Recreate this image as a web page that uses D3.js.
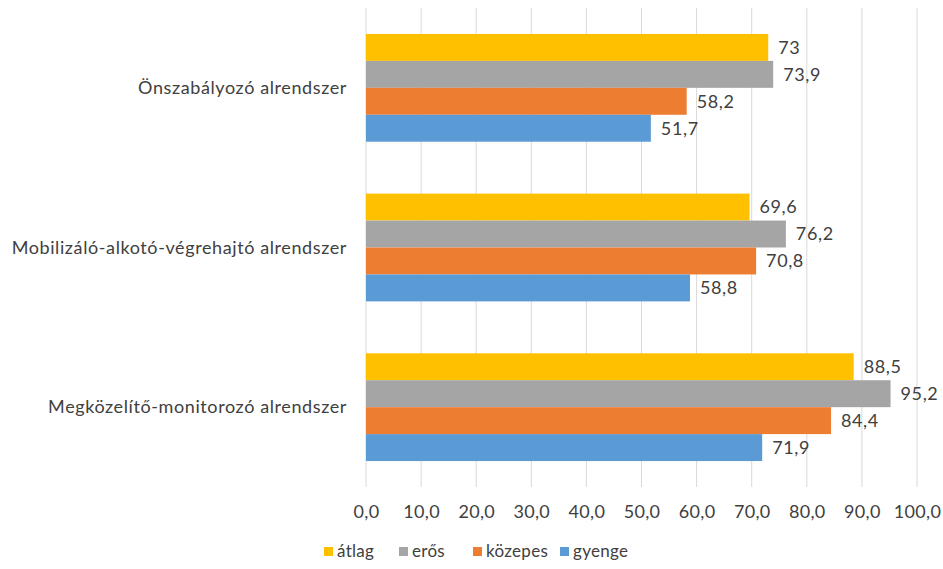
<!DOCTYPE html>
<html><head><meta charset="utf-8">
<script src="https://cdn.jsdelivr.net/npm/d3@7"></script>
<style>body{margin:0;background:#fff}svg{display:block}text{font-family:Lato,"Open Sans",sans-serif;fill:#404040;letter-spacing:0.6px}</style>
</head><body>
<svg id="c" width="943" height="569"></svg>
<script>
const categories = ["Önszabályozó alrendszer","Mobilizáló-alkotó-végrehajtó alrendszer","Megközelítő-monitorozó alrendszer"];
const seriesNames = ["átlag","erős","közepes","gyenge"];
const atlag = [73, 69.6, 88.5];
const eros = [73.9, 76.2, 95.2];
const kozepes = [58.2, 70.8, 84.4];
const gyenge = [51.7, 58.8, 71.9];
const labels = [["73","69,6","88,5"],["73,9","76,2","95,2"],["58,2","70,8","84,4"],["51,7","58,8","71,9"]];
const tickValues = [0,10,20,30,40,50,60,70,80,90,100];
const colors = ["#FFC000","#A5A5A5","#ED7D31","#5B9BD5"];
const seriesValues = [atlag, eros, kozepes, gyenge];

const svg = d3.select("#c");
const pL = 366, pR = 917, pT = 8, pB = 487;
const x = d3.scaleLinear().domain([0,100]).range([pL,pR]);
const y = d3.scaleBand().domain(categories).range([pT,pB]).paddingInner(0.325).paddingOuter(0.1625);
const ys = d3.scaleBand().domain(seriesNames).range([0,y.bandwidth()]);

// gridlines
svg.append("g").selectAll("line").data(tickValues).join("line")
  .attr("x1",d=>x(d)).attr("x2",d=>x(d)).attr("y1",pT).attr("y2",pB)
  .attr("stroke","#d9d9d9").attr("stroke-width",1);

const fmt = d => d.toFixed(1).replace(".",",");
const ax = svg.append("g").attr("transform",`translate(0,${pB})`)
  .call(d3.axisBottom(x).tickValues(tickValues).tickFormat(fmt).tickSize(0).tickPadding(18));
ax.select(".domain").remove();
ax.selectAll("text").style("font-size","18px").style("letter-spacing","0.3px").attr("fill","#595959").style("font-family","Lato,sans-serif");

// bars
seriesNames.forEach((s,si)=>{
  const g = svg.append("g");
  g.selectAll("rect").data(categories).join("rect")
    .attr("x",x(0)).attr("y",c=>y(c)+ys(s))
    .attr("width",(c,i)=>x(seriesValues[si][i])-x(0)).attr("height",ys.bandwidth())
    .attr("fill",colors[si]);
  g.selectAll("text").data(categories).join("text")
    .attr("x",(c,i)=>x(seriesValues[si][i])+10).attr("y",c=>y(c)+ys(s)+ys.bandwidth()/2)
    .attr("dy","0.35em").style("font-size","18px").text((c,i)=>labels[si][i]);
});

// category labels
svg.append("g").selectAll("text").data(categories).join("text")
  .attr("x",347).attr("y",c=>y(c)+y.bandwidth()/2).attr("dy","0.35em")
  .attr("text-anchor","end").style("font-size","18px").attr("fill","#505050").text(d=>d);

// legend
const legX = [324,399,473,560];
const lg = svg.append("g");
seriesNames.forEach((s,i)=>{
  lg.append("rect").attr("x",legX[i]).attr("y",547).attr("width",9).attr("height",9).attr("fill",colors[i]);
  lg.append("text").attr("x",legX[i]+13).attr("y",551).attr("dy","0.35em").style("font-size","17px").style("letter-spacing","0.3px").text(s);
});
</script>
</body></html>
